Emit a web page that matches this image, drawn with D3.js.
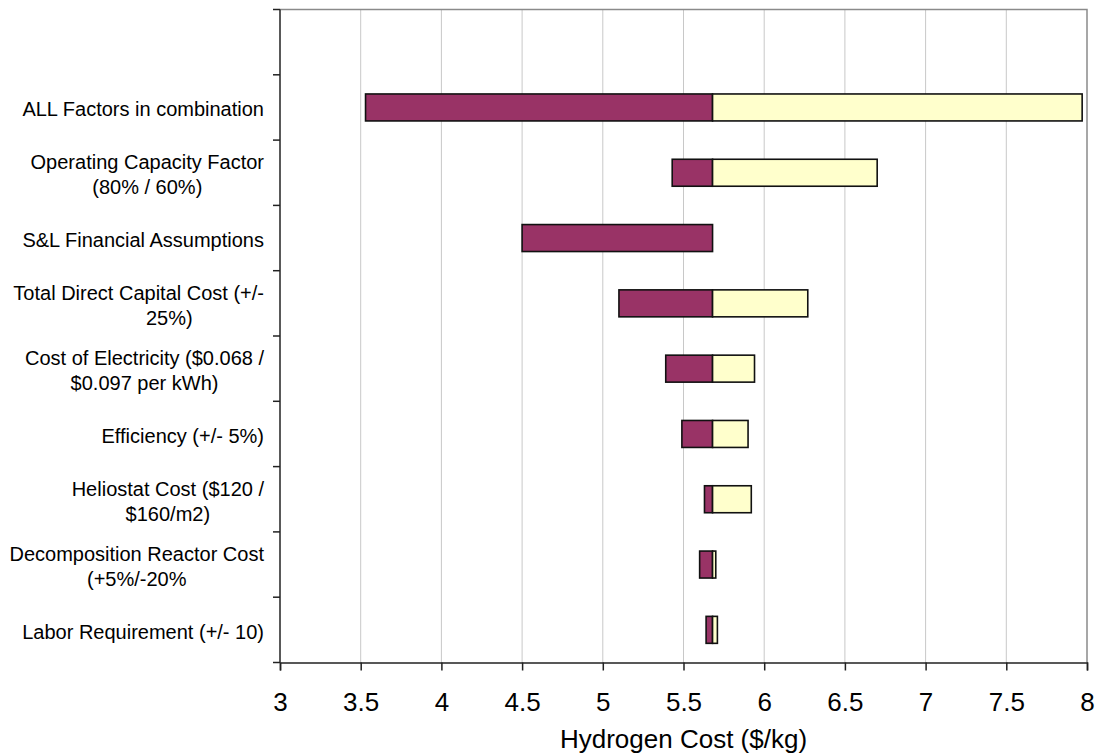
<!DOCTYPE html>
<html>
<head>
<meta charset="utf-8">
<script src="https://cdn.jsdelivr.net/npm/d3@7"></script>
<style>
  html, body { margin: 0; padding: 0; background: #fff; }
  svg { display: block; font-family: "Liberation Sans", Arial, sans-serif; }
  .cat { white-space: pre; }
</style>
</head>
<body>
<svg id="chart" width="1100" height="755"></svg>
<script>
// Sensitivity of hydrogen cost to each factor (tornado chart)
const baseCost = 5.68;

const categories = [
  ["ALL Factors in combination"],
  ["Operating Capacity Factor", "(80% / 60%)"],
  ["S&L Financial Assumptions"],
  ["Total Direct Capital Cost (+/-", "           25%)"],
  ["Cost of Electricity ($0.068 /", "$0.097 per kWh)"],
  ["Efficiency (+/- 5%)"],
  ["Heliostat Cost ($120 /", "$160/m2)"],
  ["Decomposition Reactor Cost", "(+5%/-20%"],
  ["Labor Requirement (+/- 10)"]
];
const lowCost  = [3.53, 5.43, 4.50, 5.10, 5.39, 5.49, 5.63, 5.60, 5.64];
const highCost = [7.97, 6.70, 5.68, 6.27, 5.94, 5.90, 5.92, 5.70, 5.71];

const xTicks = [3, 3.5, 4, 4.5, 5, 5.5, 6, 6.5, 7, 7.5, 8];
const xTitle = "Hydrogen Cost ($/kg)";

const colLow = "#993366";
const colHigh = "#FFFFCC";

const svg = d3.select("#chart");
const plot = { left: 280, right: 1087, top: 9.5, bottom: 662.5 };

const x = d3.scaleLinear().domain([3, 8]).range([plot.left, plot.right]);

// one blank slot above the first factor
const slots = ["blank"].concat(categories.map((c, i) => "c" + i));
const y = d3.scaleBand().domain(slots).range([plot.top, plot.bottom])
  .paddingInner(0.587).paddingOuter(0.2935);
const band = (plot.bottom - plot.top) / slots.length;

// vertical gridlines
svg.append("g")
  .selectAll("line")
  .data(xTicks.filter(t => t > 3 && t < 8))
  .join("line")
  .attr("x1", d => x(d)).attr("x2", d => x(d))
  .attr("y1", plot.top).attr("y2", plot.bottom)
  .attr("stroke", "#c8c8c8").attr("stroke-width", 1);

// plot frame (top and right)
svg.append("path")
  .attr("d", `M${plot.left},${plot.top}H${plot.right}V${plot.bottom}`)
  .attr("fill", "none").attr("stroke", "#8a8a8a").attr("stroke-width", 1.5);

// bars
const rows = categories.map((c, i) => ({ key: "c" + i, lo: lowCost[i], hi: highCost[i] }));
const gBars = svg.append("g");
rows.forEach(r => {
  if (r.lo < baseCost) {
    gBars.append("rect")
      .attr("x", x(r.lo)).attr("y", y(r.key))
      .attr("width", x(baseCost) - x(r.lo)).attr("height", y.bandwidth())
      .attr("fill", colLow).attr("stroke", "#111").attr("stroke-width", 1.6);
  }
  if (r.hi > baseCost) {
    gBars.append("rect")
      .attr("x", x(baseCost)).attr("y", y(r.key))
      .attr("width", x(r.hi) - x(baseCost)).attr("height", y.bandwidth())
      .attr("fill", colHigh).attr("stroke", "#111").attr("stroke-width", 1.6);
  }
});

// x axis
const xAxis = svg.append("g")
  .attr("transform", `translate(0,${plot.bottom})`)
  .call(d3.axisBottom(x).tickValues(xTicks).tickFormat(d3.format("")).tickSize(8));
xAxis.select(".domain").attr("stroke", "#222").attr("stroke-width", 1.5);
xAxis.selectAll(".tick line").attr("stroke", "#222").attr("stroke-width", 1.5);
xAxis.selectAll(".tick text")
  .attr("y", 48.5).attr("dy", null)
  .attr("font-size", 26).attr("fill", "#000")
  .attr("font-family", "Liberation Sans, Arial, sans-serif");

svg.append("text")
  .attr("x", (plot.left + plot.right) / 2).attr("y", 748)
  .attr("text-anchor", "middle").attr("font-size", 26).attr("fill", "#000")
  .text(xTitle);

// y axis line and ticks at slot boundaries
svg.append("line")
  .attr("x1", plot.left).attr("x2", plot.left)
  .attr("y1", plot.top).attr("y2", plot.bottom)
  .attr("stroke", "#222").attr("stroke-width", 1.5);
svg.append("g").selectAll("line")
  .data(d3.range(slots.length + 1))
  .join("line")
  .attr("x1", plot.left - 7).attr("x2", plot.left)
  .attr("y1", i => plot.top + i * band).attr("y2", i => plot.top + i * band)
  .attr("stroke", "#222").attr("stroke-width", 1.5);

// category labels: right-aligned block, lines centred within it
const lineH = 25;
const labelRight = 264;
categories.forEach((lines, i) => {
  const cy = y("c" + i) + y.bandwidth() / 2;
  const t = svg.append("text")
    .attr("class", "cat")
    .attr("xml:space", "preserve")
    .attr("font-size", 20).attr("fill", "#000")
    .attr("text-anchor", "middle");
  const y0 = cy + 9 - (lines.length - 1) * lineH / 2;
  const spans = lines.map((s, k) => t.append("tspan").attr("y", y0 + k * lineH).text(s));
  const widths = spans.map(sp => sp.node().getComputedTextLength());
  const w = d3.max(widths);
  spans.forEach(sp => sp.attr("x", labelRight - w / 2));
});
</script>
</body>
</html>
